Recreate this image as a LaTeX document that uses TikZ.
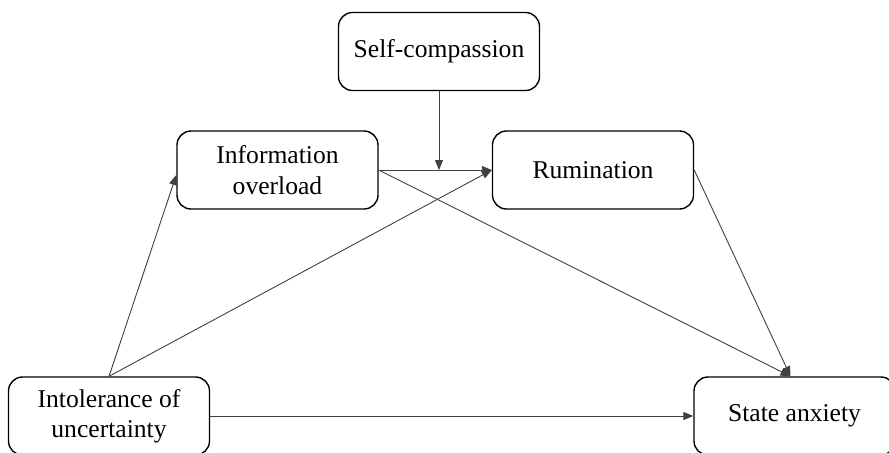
\documentclass[tikz,border=0pt]{standalone}
\usepackage{fontspec}
\setmainfont{Liberation Serif}
\usetikzlibrary{arrows.meta}

\begin{document}
\begin{tikzpicture}[x=0.5pt,y=-0.5pt,
  var/.style={draw,line width=0.7pt,rounded corners=7pt,minimum width=100.5pt,
    minimum height=39pt,inner sep=0pt,align=center,
    font=\fontsize{12.8}{15.2}\selectfont},
  path/.style={draw=black!75,line width=0.45pt,-{Triangle[length=5pt,width=4pt]}}]
\useasboundingbox (0,0) rectangle (889,452);
\node[var] (sc) at (439,51.5) {Self-compassion};
\node[var] (info) at (277.5,170) {Information\\overload};
\node[var] (rum) at (593,170) {Rumination};
\node[var] (iou) at (109,416) {Intolerance of\\uncertainty};
\node[var] (sa) at (794.5,416) {State anxiety};
\coordinate (mod) at (sc.south |- info.east);
\draw[path] (iou.north) -- ([yshift=-2.5pt]info.west);
\draw[path] (iou.north) -- (rum.west);
\draw[path] (info.east) -- (rum.west);
\draw[path] (sc.south) -- (mod);
\draw[path] (info.east) -- ([xshift=-2pt]sa.north);
\draw[path] (rum.east) -- ([xshift=-2pt]sa.north);
\draw[path] (iou.east) -- (sa.west);
\end{tikzpicture}
\end{document}
